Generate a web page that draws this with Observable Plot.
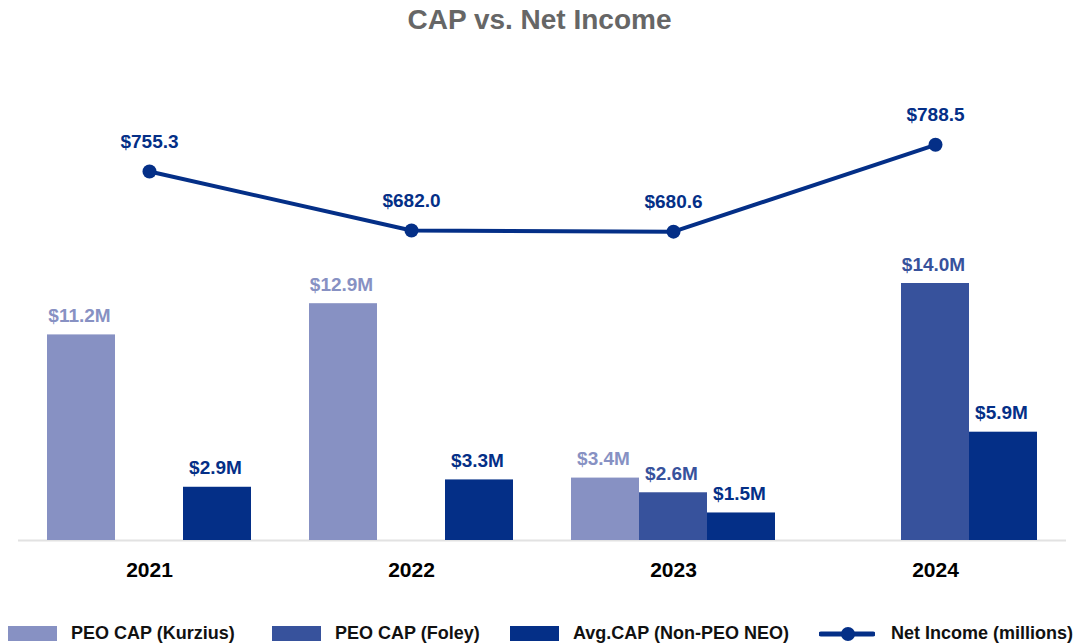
<!DOCTYPE html>
<html>
<head>
<meta charset="utf-8">
<script src="https://cdn.jsdelivr.net/npm/d3@7"></script>
<script src="https://cdn.jsdelivr.net/npm/@observablehq/plot@0.6"></script>
<style>
  html, body { margin: 0; padding: 0; background: #fff; }
  body { width: 1079px; height: 643px; overflow: hidden; font-family: "Liberation Sans", Arial, Helvetica, sans-serif; }
  #title { height: 40px; line-height: 40px; text-align: center; font-size: 28px; font-weight: bold; color: #666; }
  #chart { height: 560px; }
  #legend { position: relative; height: 43px; font-size: 18px; font-weight: bold; color: #111; }
  .item { position: absolute; top: 24px; display: flex; align-items: center; height: 19px; white-space: nowrap; }
  .sw { width: 49px; height: 15px; margin-right: 14px; }
  .lsw { margin-right: 16px; }
</style>
</head>
<body>
<div id="title">CAP vs. Net Income</div>
<div id="chart"></div>
<div id="legend"></div>
<script>
// ---- data ----
const years = ["2021", "2022", "2023", "2024"];
const kurzius = [11.2, 12.9, 3.4, null];
const foley = [null, null, 2.6, 14.0];
const avgCap = [2.9, 3.3, 1.5, 5.9];
const netIncome = [755.3, 682.0, 680.6, 788.5];
const seriesNames = ["PEO CAP (Kurzius)", "PEO CAP (Foley)", "Avg.CAP (Non-PEO NEO)", "Net Income (millions)"];
const colors = ["#8791c3", "#37529c", "#042f87", "#042f87"];

// ---- build tables ----
const series = [kurzius, foley, avgCap];
const barData = series.map(vals => years.map((y, i) => ({year: y, value: vals[i]})).filter(d => d.value != null));
const lineData = years.map((y, i) => ({year: y, value: netIncome[i]}));

// map net income (millions) onto the bar value scale (secondary axis)
const niToY = d3.scaleLinear([600, 800], [13.29, 22.06]);

const W = 1079, H = 560;
const marginLeft = 18, marginRight = 13, marginBottom = 60;
const yMax = 26;
const pxPerUnit = 18.357;
const marginTop = (H - marginBottom) - yMax * pxPerUnit;
const bandwidth = 204;
const slot = bandwidth / 3;

const marks = [
  Plot.ruleY([0], {stroke: "#e2e2e2", strokeWidth: 2})
];
series.forEach((_, k) => {
  marks.push(Plot.barY(barData[k], {
    x: "year", y: "value", fill: colors[k],
    insetLeft: k * slot, insetRight: (2 - k) * slot
  }));
  marks.push(Plot.text(barData[k], {
    x: "year", y: "value", text: d => "$" + d.value.toFixed(1) + "M",
    dx: (k - 1) * slot - 2, dy: -19, lineAnchor: "middle",
    fill: colors[k], fontSize: 19, fontWeight: "bold"
  }));
});
marks.push(
  Plot.line(lineData, {x: "year", y: d => niToY(d.value), stroke: colors[3], strokeWidth: 4}),
  Plot.dot(lineData, {x: "year", y: d => niToY(d.value), r: 7, fill: colors[3]}),
  Plot.text(lineData, {
    x: "year", y: d => niToY(d.value), text: d => "$" + d.value.toFixed(1),
    dy: -30, lineAnchor: "middle", fill: colors[3], fontSize: 19, fontWeight: "bold"
  }),
  Plot.axisX({tickSize: 0, tickPadding: 22, fontSize: 21, fontWeight: "bold", fill: "#000", label: null})
);

const chart = Plot.plot({
  width: W, height: H,
  marginLeft, marginRight, marginTop, marginBottom,
  style: {fontFamily: '"Liberation Sans", Arial, Helvetica, sans-serif', background: "#fff", overflow: "visible"},
  x: {domain: years, paddingInner: 0.2214, paddingOuter: 0.1107},
  y: {domain: [0, yMax], axis: null},
  marks
});
document.getElementById("chart").appendChild(chart);

// ---- legend ----
const legendLeft = [8, 272, 510, 819];
const legend = document.getElementById("legend");
seriesNames.forEach((name, k) => {
  const item = document.createElement("div");
  item.className = "item";
  item.style.left = legendLeft[k] + "px";
  if (k < 3) {
    const sw = document.createElement("div");
    sw.className = "sw";
    sw.style.background = colors[k];
    item.appendChild(sw);
  } else {
    const ns = "http://www.w3.org/2000/svg";
    const svg = document.createElementNS(ns, "svg");
    svg.setAttribute("width", 56); svg.setAttribute("height", 18);
    svg.setAttribute("class", "lsw");
    const ln = document.createElementNS(ns, "line");
    ln.setAttribute("x1", 2); ln.setAttribute("x2", 54); ln.setAttribute("y1", 9); ln.setAttribute("y2", 9);
    ln.setAttribute("stroke", colors[k]); ln.setAttribute("stroke-width", 5); ln.setAttribute("stroke-linecap", "round");
    const c = document.createElementNS(ns, "circle");
    c.setAttribute("cx", 29); c.setAttribute("cy", 9); c.setAttribute("r", 7); c.setAttribute("fill", colors[k]);
    svg.appendChild(ln); svg.appendChild(c);
    item.appendChild(svg);
  }
  const t = document.createElement("span");
  t.textContent = name;
  item.appendChild(t);
  legend.appendChild(item);
});
</script>
</body>
</html>
